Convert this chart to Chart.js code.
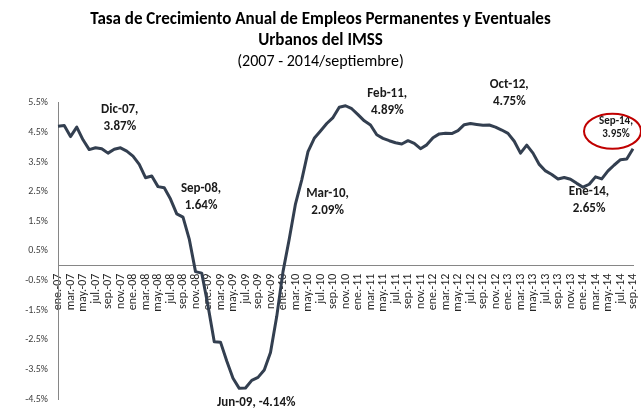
<!DOCTYPE html>
<html>
<head>
<meta charset="utf-8">
<script src="https://cdn.jsdelivr.net/npm/chart.js@4"></script>
<style>
  html, body { margin: 0; padding: 0; background: #fff; }
</style>
</head>
<body>
<canvas id="chartCanvas" width="641" height="415"></canvas>
<script>
const monthNames = ['ene.', 'feb.', 'mar.', 'abr.', 'may.', 'jun.', 'jul.', 'ago.', 'sep.', 'oct.', 'nov.', 'dic.'];
const years = ['07', '08', '09', '10', '11', '12', '13', '14'];

// tasa de crecimiento anual (%), ene-07 .. sep-14
const growth = [
  4.71, 4.73, 4.36, 4.68, 4.25, 3.92, 3.98, 3.95, 3.80, 3.93, 3.98, 3.87,
  3.70, 3.42, 2.97, 3.03, 2.67, 2.63, 2.25, 1.75, 1.64, 0.90, -0.20, -0.25,
  -1.35, -2.57, -2.58, -3.22, -3.80, -4.14, -4.13, -3.87, -3.77, -3.52, -2.93, -1.71,
  -0.20, 0.90, 2.09, 2.90, 3.85, 4.30, 4.55, 4.80, 5.00, 5.35, 5.40, 5.30,
  5.10, 4.89, 4.75, 4.42, 4.30, 4.22, 4.15, 4.11, 4.22, 4.13, 3.95, 4.08,
  4.32, 4.45, 4.47, 4.46, 4.56, 4.76, 4.80, 4.77, 4.74, 4.75, 4.68, 4.58,
  4.47, 4.20, 3.80, 4.07, 3.80, 3.42, 3.20, 3.08, 2.93, 2.98, 2.92, 2.78,
  2.65, 2.75, 3.00, 2.93, 3.20, 3.40, 3.58, 3.60, 3.95
];

const labels = [];
years.forEach(y => monthNames.forEach(m => labels.push(m + '-' + y)));
labels.length = growth.length;

// puntos destacados
const noteIndex = [11, 20, 29, 38, 49, 69, 84, 92];
const noteText = [
  ['Dic-07,', '3.87%'],
  ['Sep-08,', '1.64%'],
  ['Jun-09, -4.14%'],
  ['Mar-10,', '2.09%'],
  ['Feb-11,', '4.89%'],
  ['Oct-12,', '4.75%'],
  ['Ene-14,', '2.65%'],
  ['Sep-14,', '3.95%']
];
const noteOffset = [[-7, -41], [18, -28], [17, 14], [32, -10], [23, -27], [20, -40], [6, 5], [-17, -27]];

const FONT = 'Carlito, "Liberation Sans Narrow", "Liberation Sans", sans-serif';

const notesPlugin = {
  id: 'notes',
  afterDatasetsDraw(chart) {
    const ctx = chart.ctx;
    const meta = chart.getDatasetMeta(0);
    ctx.save();
    ctx.textAlign = 'center';
    ctx.textBaseline = 'middle';
    ctx.fillStyle = '#1a1a1a';
    noteIndex.forEach((idx, k) => {
      const p = meta.data[idx];
      const x = p.x + noteOffset[k][0];
      const y = p.y + noteOffset[k][1];
      const last = k === noteIndex.length - 1;
      ctx.font = 'bold ' + (last ? 11 : 13) + 'px ' + FONT;
      noteText[k].forEach((t, j) => ctx.fillText(t, x, y + j * (last ? 13 : 16.5)));
      if (last) {
        ctx.strokeStyle = '#c00000';
        ctx.lineWidth = 2;
        ctx.beginPath();
        ctx.ellipse(x - 3.5, y + 9.5, 28.5, 17.5, 0, 0, Math.PI * 2);
        ctx.stroke();
      }
    });
    ctx.restore();
  }
};

const ctx = document.getElementById('chartCanvas').getContext('2d');
new Chart(ctx, {
  type: 'line',
  data: {
    labels: labels,
    datasets: [{
      data: growth,
      borderColor: '#333f50',
      borderWidth: 3,
      pointRadius: 0,
      tension: 0,
      borderJoinStyle: 'round',
      fill: false
    }]
  },
  options: {
    responsive: false,
    animation: false,
    layout: { padding: { left: 8, right: 8, bottom: 5 } },
    plugins: {
      legend: { display: false },
      tooltip: { enabled: false },
      title: {
        display: true,
        text: ['Tasa de Crecimiento Anual de Empleos Permanentes y Eventuales', 'Urbanos del IMSS'],
        color: '#000',
        font: { family: FONT, size: 17, weight: 'bold', lineHeight: 1.235 },
        padding: { top: 9.5, bottom: 0 }
      },
      subtitle: {
        display: true,
        text: '(2007 - 2014/septiembre)',
        color: '#000',
        font: { family: FONT, size: 16, lineHeight: 1.3 },
        padding: { top: 0, bottom: 30.5 }
      }
    },
    scales: {
      x: {
        position: { y: 0 },
        afterFit: s => { s.paddingLeft = 0; s.paddingRight = 0; },
        grid: { display: false, drawTicks: false },
        border: { display: true, color: '#868686', width: 1 },
        ticks: {
          autoSkip: false,
          maxRotation: 90,
          minRotation: 90,
          padding: 8,
          color: '#262626',
          font: { family: FONT, size: 12 },
          callback: function(v, i) { return i % 2 === 0 ? labels[i] : ''; }
        }
      },
      y: {
        min: -4.5,
        max: 5.5,
        afterFit: s => { s.width = 50; },
        grid: { display: false, drawTicks: false },
        border: { display: true, color: '#868686', width: 1 },
        ticks: {
          stepSize: 1,
          padding: 10,
          color: '#404040',
          font: { family: FONT, size: 10 },
          callback: v => v.toFixed(1) + '%'
        }
      }
    }
  },
  plugins: [notesPlugin]
});
</script>
</body>
</html>
